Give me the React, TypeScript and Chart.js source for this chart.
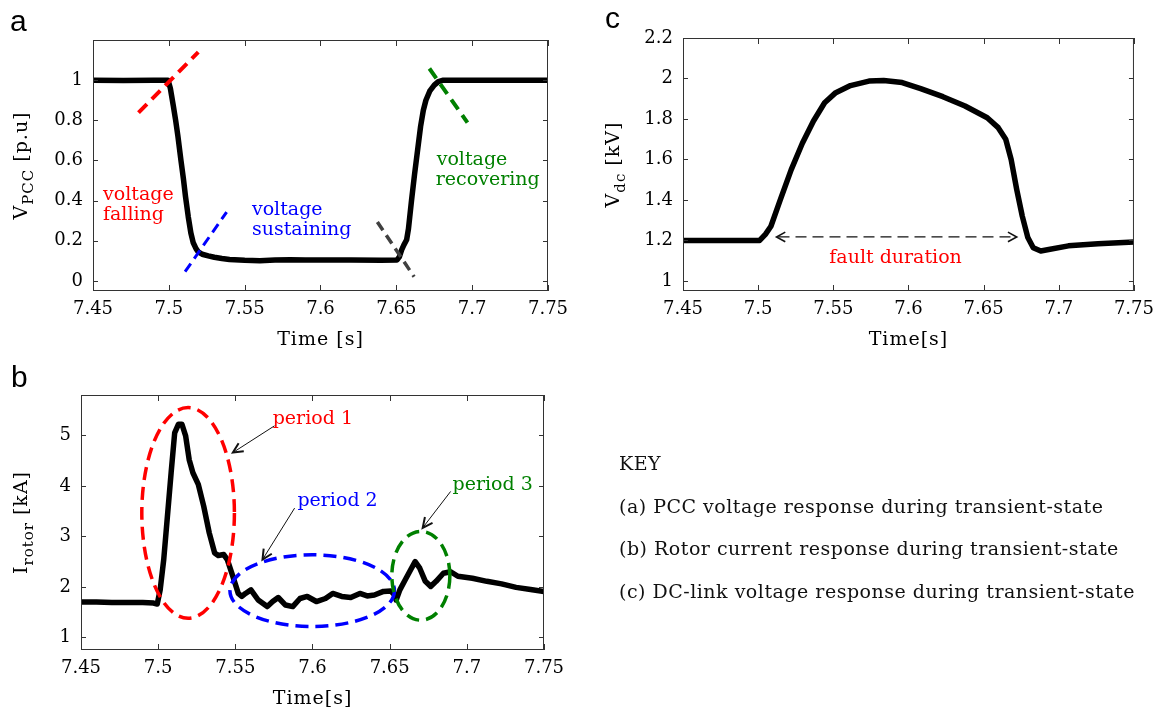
import React, { useEffect, useRef } from 'react';
import { Chart, registerables } from 'chart.js';

Chart.register(...registerables);

const PAGE_W = 1162;
const PAGE_H = 708;
const Y_AXIS_W = 60;
const X_AXIS_H = 40;
const SERIF = '"DejaVu Serif", serif';
const SANS = '"Liberation Sans", Arial, sans-serif';

// ---------- shared x axis ----------
const xTicks = [7.45, 7.5, 7.55, 7.6, 7.65, 7.7, 7.75];
const xTickLabels = ['7.45', '7.5', '7.55', '7.6', '7.65', '7.7', '7.75'];

// ---------- panel a : PCC voltage ----------
const timeA = [7.45, 7.47, 7.49, 7.4995, 7.501, 7.503, 7.5045, 7.506, 7.508, 7.5096, 7.511, 7.5128, 7.5145, 7.5161, 7.518, 7.5194, 7.522, 7.526, 7.53, 7.535, 7.54, 7.55, 7.56, 7.57, 7.58, 7.59, 7.6, 7.62, 7.64, 7.6505, 7.652, 7.6535, 7.655, 7.6568, 7.658, 7.66, 7.662, 7.6645, 7.666, 7.6678, 7.6695, 7.672, 7.675, 7.6777, 7.681, 7.7, 7.75];
const vpccA = [1.0, 0.998, 1.0, 1.0, 0.96, 0.87, 0.80, 0.72, 0.60, 0.51, 0.42, 0.32, 0.24, 0.19, 0.16, 0.145, 0.133, 0.125, 0.118, 0.112, 0.107, 0.103, 0.101, 0.104, 0.106, 0.104, 0.104, 0.105, 0.103, 0.105, 0.12, 0.155, 0.18, 0.205, 0.26, 0.40, 0.53, 0.68, 0.77, 0.85, 0.90, 0.945, 0.975, 0.993, 1.0, 1.0, 1.0];
const yTicksA = [0, 0.2, 0.4, 0.6, 0.8, 1];
const yTickLabelsA = ['0', '0.2', '0.4', '0.6', '0.8', '1'];

// ---------- panel b : rotor current ----------
const timeB = [7.45, 7.46, 7.47, 7.48, 7.49, 7.497, 7.4994, 7.5013, 7.5036, 7.506, 7.5084, 7.5107, 7.5131, 7.5154, 7.5178, 7.5201, 7.5225, 7.526, 7.5295, 7.5331, 7.5366, 7.5389, 7.5425, 7.5448, 7.5484, 7.5519, 7.5542, 7.5566, 7.5601, 7.5648, 7.5707, 7.5742, 7.5778, 7.5825, 7.5872, 7.5919, 7.5966, 7.6025, 7.6084, 7.6131, 7.6189, 7.6248, 7.6307, 7.6354, 7.6401, 7.646, 7.6507, 7.6531, 7.6542, 7.6566, 7.6601, 7.6636, 7.6665, 7.6695, 7.6731, 7.6766, 7.6801, 7.6848, 7.6895, 7.6942, 7.7036, 7.713, 7.7225, 7.7319, 7.7413, 7.75];
const irotorB = [1.70, 1.70, 1.69, 1.69, 1.69, 1.68, 1.66, 1.94, 2.54, 3.40, 4.26, 5.05, 5.22, 5.22, 4.99, 4.52, 4.26, 4.03, 3.60, 3.07, 2.67, 2.62, 2.64, 2.54, 2.21, 1.87, 1.81, 1.87, 1.94, 1.74, 1.61, 1.71, 1.79, 1.64, 1.61, 1.77, 1.81, 1.71, 1.77, 1.87, 1.81, 1.79, 1.87, 1.82, 1.84, 1.91, 1.92, 1.84, 1.74, 1.94, 2.14, 2.34, 2.50, 2.37, 2.11, 2.01, 2.11, 2.27, 2.30, 2.21, 2.17, 2.11, 2.06, 1.99, 1.95, 1.91];
const yTicksB = [1, 2, 3, 4, 5];
const yTickLabelsB = ['1', '2', '3', '4', '5'];

// ---------- panel c : DC-link voltage ----------
const timeC = [7.45, 7.47, 7.49, 7.501, 7.5048, 7.5085, 7.5147, 7.522, 7.5294, 7.5368, 7.5442, 7.5516, 7.5614, 7.5737, 7.5835, 7.5958, 7.6081, 7.6229, 7.6376, 7.6524, 7.6597, 7.6647, 7.6683, 7.672, 7.6757, 7.6794, 7.683, 7.688, 7.6942, 7.7064, 7.7261, 7.75];
const vdcC = [1.2, 1.2, 1.2, 1.2, 1.23, 1.27, 1.40, 1.55, 1.68, 1.79, 1.88, 1.93, 1.965, 1.987, 1.99, 1.98, 1.95, 1.91, 1.864, 1.806, 1.757, 1.70, 1.60, 1.452, 1.32, 1.214, 1.164, 1.148, 1.156, 1.173, 1.184, 1.192];
const yTicksC = [1, 1.2, 1.4, 1.6, 1.8, 2, 2.2];
const yTickLabelsC = ['1', '1.2', '1.4', '1.6', '1.8', '2', '2.2'];

// ---------- annotations (data coordinates) ----------
const guideLinesA = [
  { from: [7.48, 0.838], to: [7.5194, 1.14], color: '#ff0000', width: 4, dash: [12, 7] },
  { from: [7.5107, 0.046], to: [7.5381, 0.343], color: '#0000ff', width: 3, dash: [10, 6] },
  { from: [7.6375, 0.294], to: [7.6617, 0.021], color: '#404040', width: 3.5, dash: [10, 6] },
  { from: [7.6718, 1.058], to: [7.6969, 0.789], color: '#008000', width: 4, dash: [12, 7] },
];
const notesA = [
  { text: 'voltage', x: 7.4566, y: 0.426, color: '#ff0000' },
  { text: 'falling', x: 7.4566, y: 0.327, color: '#ff0000' },
  { text: 'voltage', x: 7.5548, y: 0.351, color: '#0000ff' },
  { text: 'sustaining', x: 7.5548, y: 0.252, color: '#0000ff' },
  { text: 'voltage', x: 7.6766, y: 0.604, color: '#008000' },
  { text: 'recovering', x: 7.676, y: 0.5, color: '#008000' },
];
const ellipsesB = [
  { cx: 7.5194, cy: 3.465, rx: 0.03, ry: 2.085, color: '#ff0000' },
  { cx: 7.5998, cy: 1.925, rx: 0.0533, ry: 0.71, color: '#0000ff' },
  { cx: 7.6702, cy: 2.22, rx: 0.0188, ry: 0.88, color: '#008000' },
];
const pointersB = [
  { from: [7.5754, 5.19], to: [7.5484, 4.66] },
  { from: [7.5884, 3.56], to: [7.5676, 2.54] },
  { from: [7.6895, 3.89], to: [7.6714, 3.17] },
];
const notesB = [
  { text: 'period 1', x: 7.5742, y: 5.32, color: '#ff0000' },
  { text: 'period 2', x: 7.5902, y: 3.7, color: '#0000ff' },
  { text: 'period 3', x: 7.6907, y: 4.01, color: '#008000' },
];
const faultSpanC = { from: 7.5122, to: 7.672, y: 1.217 };
const notesC = [{ text: 'fault duration', x: 7.5914, y: 1.115, color: '#ff0000', align: 'center' }];

const keyLines = [
  '(a) PCC voltage response during transient-state',
  '(b) Rotor current response during transient-state',
  '(c) DC-link voltage response during transient-state',
];

// ---------- drawing helpers ----------
function drawNotes(ctx: any, notes: any[], X: any, Y: any) {
  ctx.save();
  ctx.font = `19px ${SERIF}`;
  ctx.textBaseline = 'middle';
  notes.forEach((n) => {
    ctx.fillStyle = n.color;
    ctx.textAlign = n.align || 'left';
    ctx.fillText(n.text, X(n.x), Y(n.y));
  });
  ctx.restore();
}

function chevron(ctx: any, tipX: number, tipY: number, fromX: number, fromY: number, len: number, spread: number) {
  const ang = Math.atan2(tipY - fromY, tipX - fromX);
  ctx.beginPath();
  ctx.moveTo(tipX - len * Math.cos(ang - spread), tipY - len * Math.sin(ang - spread));
  ctx.lineTo(tipX, tipY);
  ctx.lineTo(tipX - len * Math.cos(ang + spread), tipY - len * Math.sin(ang + spread));
  ctx.stroke();
}

function annotateA(ctx: any, X: any, Y: any) {
  guideLinesA.forEach((g) => {
    ctx.save();
    ctx.strokeStyle = g.color;
    ctx.lineWidth = g.width;
    ctx.setLineDash(g.dash);
    ctx.beginPath();
    ctx.moveTo(X(g.from[0]), Y(g.from[1]));
    ctx.lineTo(X(g.to[0]), Y(g.to[1]));
    ctx.stroke();
    ctx.restore();
  });
  drawNotes(ctx, notesA, X, Y);
}

function annotateB(ctx: any, X: any, Y: any) {
  ellipsesB.forEach((e) => {
    const cx = X(e.cx), cy = Y(e.cy);
    const rx = Math.abs(X(e.cx + e.rx) - cx), ry = Math.abs(Y(e.cy + e.ry) - cy);
    ctx.save();
    ctx.strokeStyle = e.color;
    ctx.lineWidth = 3.5;
    ctx.setLineDash([13, 7]);
    ctx.beginPath();
    ctx.ellipse(cx, cy, rx, ry, 0, 0, Math.PI * 2);
    ctx.stroke();
    ctx.restore();
  });
  pointersB.forEach((p) => {
    const x1 = X(p.from[0]), y1 = Y(p.from[1]), x2 = X(p.to[0]), y2 = Y(p.to[1]);
    ctx.save();
    ctx.strokeStyle = '#111';
    ctx.lineWidth = 1;
    ctx.beginPath();
    ctx.moveTo(x1, y1);
    ctx.lineTo(x2, y2);
    ctx.stroke();
    ctx.lineWidth = 2;
    chevron(ctx, x2, y2, x1, y1, 11, 0.45);
    ctx.restore();
  });
  drawNotes(ctx, notesB, X, Y);
}

function annotateC(ctx: any, X: any, Y: any) {
  const x1 = X(faultSpanC.from), x2 = X(faultSpanC.to), y = Y(faultSpanC.y);
  ctx.save();
  ctx.strokeStyle = '#111';
  ctx.lineWidth = 1.3;
  ctx.setLineDash([11, 6]);
  ctx.beginPath();
  ctx.moveTo(x1 + 2, y);
  ctx.lineTo(x2 - 2, y);
  ctx.stroke();
  ctx.setLineDash([]);
  ctx.lineWidth = 1.6;
  chevron(ctx, x1, y, x2, y, 10, 0.5);
  chevron(ctx, x2, y, x1, y, 10, 0.5);
  ctx.restore();
  drawNotes(ctx, notesC, X, Y);
}

function drawRich(ctx: any, parts: any[], cx: number, cy: number, rotate: boolean) {
  ctx.save();
  ctx.translate(cx, cy);
  if (rotate) ctx.rotate(-Math.PI / 2);
  ctx.textBaseline = 'middle';
  ctx.textAlign = 'left';
  ctx.fillStyle = '#000';
  try { ctx.letterSpacing = '1px'; } catch (e) {}
  const widths = parts.map((p) => {
    ctx.font = `${p.sub ? 15 : 19}px ${SERIF}`;
    return ctx.measureText(p.t).width;
  });
  const total = widths.reduce((a, b) => a + b, 0);
  let x = -total / 2;
  parts.forEach((p, i) => {
    ctx.font = `${p.sub ? 15 : 19}px ${SERIF}`;
    ctx.fillText(p.t, x, p.sub ? 7 : 0);
    x += widths[i];
  });
  ctx.restore();
}

const PANELS = [
  {
    key: 'a', box: { left: 93, top: 40, right: 548, bottom: 291 }, yMin: -0.05, yMax: 1.2,
    yTicks: yTicksA, yLabels: yTickLabelsA, t: timeA, v: vpccA,
    xTitle: [{ t: 'Time [s]' }], yTitle: [{ t: 'V' }, { t: 'PCC', sub: true }, { t: ' [p.u]' }], yTitleX: 22,
    annotate: annotateA,
  },
  {
    key: 'b', box: { left: 81, top: 395, right: 544, bottom: 650 }, yMin: 0.75, yMax: 5.8,
    yTicks: yTicksB, yLabels: yTickLabelsB, t: timeB, v: irotorB,
    xTitle: [{ t: 'Time[s]' }], yTitle: [{ t: 'I' }, { t: 'rotor', sub: true }, { t: ' [kA]' }], yTitleX: 22,
    annotate: annotateB,
  },
  {
    key: 'c', box: { left: 683, top: 38, right: 1136, bottom: 291 }, yMin: 0.95, yMax: 2.2,
    yTicks: yTicksC, yLabels: yTickLabelsC, t: timeC, v: vdcC,
    xTitle: [{ t: 'Time[s]' }], yTitle: [{ t: 'V' }, { t: 'dc', sub: true }, { t: ' [kV]' }], yTitleX: 614,
    annotate: annotateC,
  },
];

function makeOverlay(panel: any) {
  return {
    id: 'overlay_' + panel.key,
    afterDatasetsDraw(chart: any) {
      const { ctx, chartArea: ca } = chart;
      const xs = chart.scales.x, ys = chart.scales.y;
      const X = (v: number) => xs.getPixelForValue(v);
      const Y = (v: number) => ys.getPixelForValue(v);
      ctx.save();
      panel.annotate(ctx, X, Y);
      ctx.restore();

      ctx.save();
      ctx.setLineDash([]);
      ctx.strokeStyle = '#333';
      ctx.lineWidth = 1;
      ctx.strokeRect(ca.left + 0.5, ca.top + 0.5, ca.right - ca.left - 1, ca.bottom - ca.top - 1);
      ctx.beginPath();
      xs.ticks.forEach((tk: any) => {
        const x = Math.round(X(tk.value)) + 0.5;
        ctx.moveTo(x, ca.bottom);
        ctx.lineTo(x, ca.bottom - 6);
        ctx.moveTo(x, ca.top);
        ctx.lineTo(x, ca.top + 6);
      });
      ys.ticks.forEach((tk: any) => {
        const y = Math.round(Y(tk.value)) + 0.5;
        ctx.moveTo(ca.left, y);
        ctx.lineTo(ca.left + 5, y);
        ctx.moveTo(ca.right, y);
        ctx.lineTo(ca.right - 5, y);
      });
      ctx.stroke();
      drawRich(ctx, panel.xTitle, (ca.left + ca.right) / 2, ca.bottom + 49, false);
      drawRich(ctx, panel.yTitle, panel.yTitleX, (ca.top + ca.bottom) / 2, true);
      ctx.restore();
    },
  };
}

function makeChart(canvas: HTMLCanvasElement, panel: any) {
  const b = panel.box;
  const pad = {
    left: b.left - Y_AXIS_W,
    top: b.top,
    right: PAGE_W - b.right,
    bottom: PAGE_H - b.bottom - X_AXIS_H,
  };
  const tickFont = { family: SERIF, size: 18 };
  return new Chart(canvas, {
    type: 'line',
    data: {
      datasets: [
        {
          data: panel.t.map((x: number, i: number) => ({ x, y: panel.v[i] })),
          borderColor: '#000',
          borderWidth: 5.5,
          pointRadius: 0,
          tension: 0,
          fill: false,
          borderJoinStyle: 'round',
          borderCapStyle: 'round',
        },
      ],
    },
    options: {
      responsive: false,
      animation: false,
      events: [],
      layout: { padding: pad },
      plugins: { legend: { display: false }, tooltip: { enabled: false }, title: { display: false } },
      scales: {
        x: {
          type: 'linear',
          min: 7.45,
          max: 7.75,
          afterBuildTicks: (s: any) => { s.ticks = xTicks.map((v) => ({ value: v })); },
          afterFit: (s: any) => { s.height = X_AXIS_H; },
          grid: { display: false, drawTicks: false },
          border: { display: false },
          ticks: {
            callback: (_v: any, i: number) => xTickLabels[i],
            font: tickFont, color: '#000', padding: 8, maxRotation: 0, autoSkip: false,
          },
        },
        y: {
          type: 'linear',
          min: panel.yMin,
          max: panel.yMax,
          afterBuildTicks: (s: any) => { s.ticks = panel.yTicks.map((v: number) => ({ value: v })); },
          afterFit: (s: any) => { s.width = Y_AXIS_W; },
          grid: { display: false, drawTicks: false },
          border: { display: false },
          ticks: {
            callback: (_v: any, i: number) => panel.yLabels[i],
            font: tickFont, color: '#000', padding: 10, autoSkip: false,
          },
        },
      },
    } as any,
    plugins: [makeOverlay(panel)],
  });
}

export default function App() {
  const refA = useRef<HTMLCanvasElement>(null);
  const refB = useRef<HTMLCanvasElement>(null);
  const refC = useRef<HTMLCanvasElement>(null);

  useEffect(() => {
    const refs = [refA, refB, refC];
    const charts = PANELS.map((p, i) => makeChart(refs[i].current as HTMLCanvasElement, p));
    return () => charts.forEach((c) => c.destroy());
  }, []);

  const canvasStyle: React.CSSProperties = { position: 'absolute', left: 0, top: 0, width: PAGE_W, height: PAGE_H };
  const letter = (txt: string, left: number, top: number) => (
    <div style={{ position: 'absolute', left, top, fontFamily: SANS, fontSize: 30, lineHeight: 1, color: '#000' }}>{txt}</div>
  );
  const keyBaselines = [513, 555, 598];

  return (
    <div style={{ position: 'absolute', left: 0, top: 0, width: PAGE_W, height: PAGE_H, background: '#fff', overflow: 'hidden' }}>
      <canvas ref={refA} width={PAGE_W} height={PAGE_H} style={canvasStyle} />
      <canvas ref={refB} width={PAGE_W} height={PAGE_H} style={canvasStyle} />
      <canvas ref={refC} width={PAGE_W} height={PAGE_H} style={canvasStyle} />
      {letter('a', 10, 6)}
      {letter('b', 11, 362)}
      {letter('c', 605, 3)}
      <div style={{ position: 'absolute', left: 619, top: 454, fontFamily: SERIF, fontSize: 19, lineHeight: 1, letterSpacing: '0.5px', color: '#111', whiteSpace: 'nowrap' }}>KEY</div>
      {keyLines.map((t, i) => (
        <div key={t} style={{ position: 'absolute', left: 619, top: keyBaselines[i] - 16, fontFamily: SERIF, fontSize: 19, lineHeight: 1, letterSpacing: '0.5px', color: '#111', whiteSpace: 'nowrap' }}>{t}</div>
      ))}
    </div>
  );
}
